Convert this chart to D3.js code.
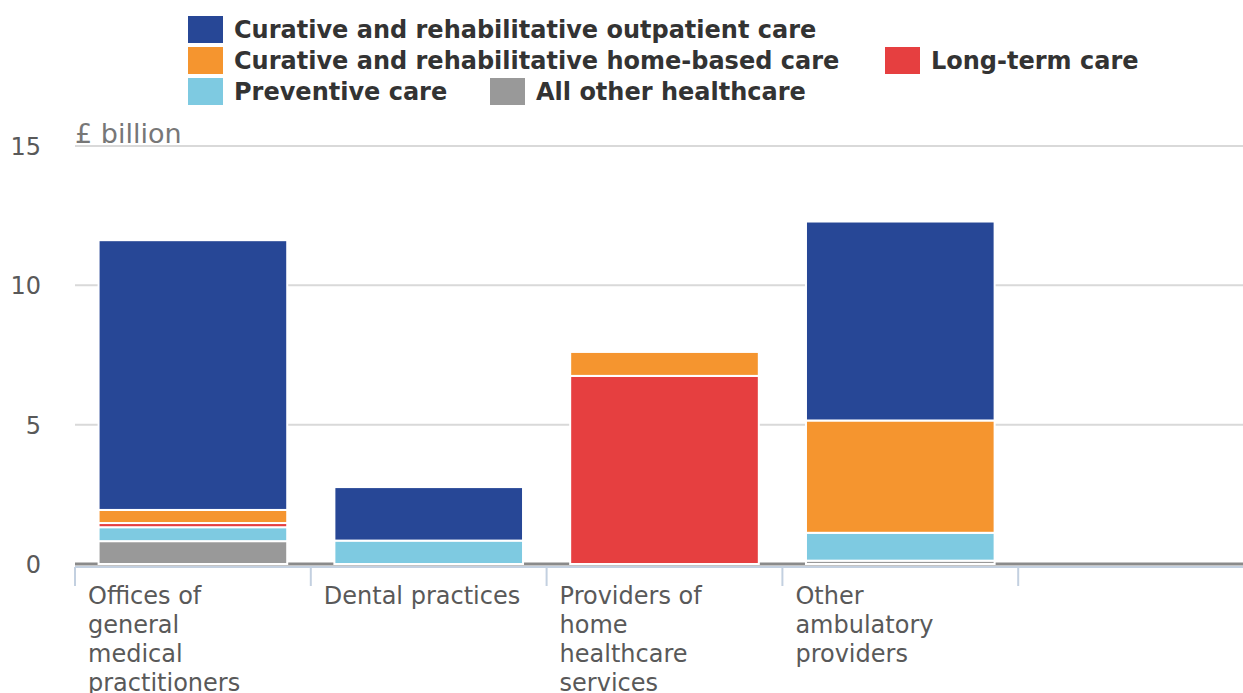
<!DOCTYPE html>
<html>
<head>
<meta charset="utf-8">
<script src="https://cdn.jsdelivr.net/npm/d3@7"></script>
<style>
  body { margin: 0; background: #fff; }
  svg { display: block; font-family: "DejaVu Sans", sans-serif; }
</style>
</head>
<body>
<svg id="chart" width="1243" height="693"></svg>
<script>
// data
const categories = [
    ["Offices of", "general", "medical", "practitioners"],
    ["Dental practices"],
    ["Providers of", "home", "healthcare", "services"],
    ["Other", "ambulatory", "providers"],
    [""]
];
const seriesNames = [
    "All other healthcare",
    "Preventive care",
    "Long-term care",
    "Curative and rehabilitative home-based care",
    "Curative and rehabilitative outpatient care"
];
const allOther    = [0.82, 0,    0,    0.12, 0];
const preventive  = [0.50, 0.84, 0,    1.00, 0];
const longTerm    = [0.15, 0,    6.75, 0,    0];
const homeBased   = [0.47, 0,    0.86, 4.03, 0];
const outpatient  = [9.68, 1.92, 0,    7.14, 0];
const yTicks = [0, 5, 10, 15];

const colors = {
    "Curative and rehabilitative outpatient care": "#274796",
    "Curative and rehabilitative home-based care": "#f5952f",
    "Long-term care": "#e63f40",
    "Preventive care": "#7ecae1",
    "All other healthcare": "#999999"
};

const rows = categories.map((c, i) => ({
    key: i,
    "All other healthcare": allOther[i],
    "Preventive care": preventive[i],
    "Long-term care": longTerm[i],
    "Curative and rehabilitative home-based care": homeBased[i],
    "Curative and rehabilitative outpatient care": outpatient[i]
}));

const svg = d3.select("#chart")
    , plotLeft = 75
    , plotRight = 1254
    , plotTop = 146
    , plotBottom = 564
    , x = d3.scaleBand()
        .domain(d3.range(categories.length))
        .range([plotLeft, plotRight])
        .paddingInner(0.2)
        .paddingOuter(0.1)
    , y = d3.scaleLinear()
        .domain([0, 15])
        .range([plotBottom, plotTop])
    , stack = d3.stack().keys(seriesNames)(rows);

// gridlines
svg.append("g")
    .selectAll("line")
    .data(yTicks.filter(d => d > 0))
    .enter().append("line")
    .attr("x1", plotLeft)
    .attr("x2", 1243)
    .attr("y1", d => y(d))
    .attr("y2", d => y(d))
    .attr("stroke", "#d9d9d9")
    .attr("stroke-width", 2);

// y tick labels
svg.append("g")
    .selectAll("text")
    .data(yTicks)
    .enter().append("text")
    .attr("x", 41)
    .attr("y", d => y(d) + 9)
    .attr("text-anchor", "end")
    .attr("font-size", 24)
    .attr("fill", "#595959")
    .text(d => d);

svg.append("text")
    .attr("x", plotLeft)
    .attr("y", 143)
    .attr("font-size", 27)
    .attr("fill", "#777")
    .text("£ billion");

// bottom axis (band boundaries)
const axisY = plotBottom + 3;
svg.append("line")
    .attr("x1", plotLeft)
    .attr("x2", 1243)
    .attr("y1", axisY)
    .attr("y2", axisY)
    .attr("stroke", "#c3d0e0")
    .attr("stroke-width", 2);
svg.append("g")
    .selectAll("line")
    .data(d3.range(categories.length))
    .enter().append("line")
    .attr("x1", d => x(d) - x.step() * x.paddingInner() / 2)
    .attr("x2", d => x(d) - x.step() * x.paddingInner() / 2)
    .attr("y1", axisY)
    .attr("y2", axisY + 19)
    .attr("stroke", "#c3d0e0")
    .attr("stroke-width", 2);

// zero line
svg.append("line")
    .attr("x1", plotLeft)
    .attr("x2", 1243)
    .attr("y1", y(0))
    .attr("y2", y(0))
    .attr("stroke", "#8a8a8a")
    .attr("stroke-width", 3);

// bars
svg.append("g")
    .selectAll("g")
    .data(stack)
    .enter().append("g")
    .attr("fill", d => colors[d.key])
    .selectAll("rect")
    .data(d => d.filter(p => p[1] - p[0] > 0))
    .enter().append("rect")
    .attr("x", d => x(d.data.key))
    .attr("y", d => y(d[1]))
    .attr("width", x.bandwidth())
    .attr("height", d => y(d[0]) - y(d[1]))
    .attr("stroke", "#fff")
    .attr("stroke-width", 2);

// category labels
svg.append("g")
    .selectAll("text")
    .data(categories)
    .enter().append("text")
    .attr("x", (d, i) => x(i) - x.step() * x.paddingInner() / 2 + 13)
    .attr("y", 604)
    .attr("font-size", 24)
    .attr("fill", "#595959")
    .selectAll("tspan")
    .data(d => d)
    .enter().append("tspan")
    .attr("x", function () { return d3.select(this.parentNode).attr("x"); })
    .attr("dy", (d, i) => i ? 29 : 0)
    .text(d => d);

// legend
const legendItems = [
    { name: "Curative and rehabilitative outpatient care", x: 188, row: 0 },
    { name: "Curative and rehabilitative home-based care", x: 188, row: 1 },
    { name: "Long-term care", x: 885, row: 1 },
    { name: "Preventive care", x: 188, row: 2 },
    { name: "All other healthcare", x: 490, row: 2 }
];
const legend = svg.append("g")
    .selectAll("g")
    .data(legendItems)
    .enter().append("g")
    .attr("transform", d => "translate(" + d.x + "," + (16 + d.row * 31) + ")");
legend.append("rect")
    .attr("width", 35)
    .attr("height", 27)
    .attr("fill", d => colors[d.name]);
legend.append("text")
    .attr("x", 46)
    .attr("y", 22)
    .attr("font-size", 24)
    .attr("font-weight", "bold")
    .attr("fill", "#333")
    .text(d => d.name);
</script>
</body>
</html>
